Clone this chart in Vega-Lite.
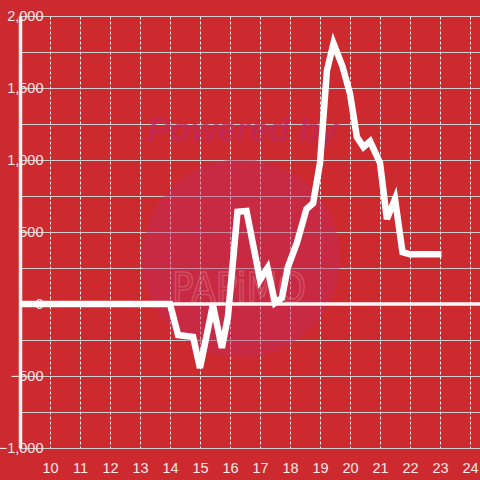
{
  "$schema": "https://vega.github.io/schema/vega-lite/v6.json",
  "autosize": "none",
  "width": 460,
  "height": 432,
  "padding": {"left": 20, "top": 16, "right": 0, "bottom": 32},
  "background": "#cd2a2f",
  "config": {
    "view": {"stroke": null},
    "font": "Liberation Sans"
  },
  "datasets": {
    "series": [
      {"hour": 9.0, "value": 0},
      {"hour": 14.0, "value": 0},
      {"hour": 14.27, "value": -215},
      {"hour": 14.77, "value": -229},
      {"hour": 15.0, "value": -444},
      {"hour": 15.43, "value": -7},
      {"hour": 15.73, "value": -305},
      {"hour": 15.93, "value": -90},
      {"hour": 16.25, "value": 640},
      {"hour": 16.55, "value": 646},
      {"hour": 17.0, "value": 167},
      {"hour": 17.25, "value": 250},
      {"hour": 17.5, "value": 7},
      {"hour": 17.73, "value": 42},
      {"hour": 17.93, "value": 257},
      {"hour": 18.23, "value": 424},
      {"hour": 18.55, "value": 660},
      {"hour": 18.77, "value": 700},
      {"hour": 19.0, "value": 980},
      {"hour": 19.23, "value": 1620},
      {"hour": 19.45, "value": 1810},
      {"hour": 19.75, "value": 1650},
      {"hour": 20.0, "value": 1460},
      {"hour": 20.23, "value": 1160},
      {"hour": 20.45, "value": 1090},
      {"hour": 20.67, "value": 1130},
      {"hour": 21.0, "value": 980},
      {"hour": 21.23, "value": 590},
      {"hour": 21.5, "value": 730},
      {"hour": 21.75, "value": 360},
      {"hour": 22.0, "value": 345},
      {"hour": 23.05, "value": 345}
    ],
    "zero": [{"hour": 9.0, "value": 0}, {"hour": 24.3333, "value": 0}],
    "badge": [{"hour": 16.37, "value": 319}],
    "caption": [{"hour": 16.43, "value": 1201, "label": "Powered by"}],
    "brand": [{"hour": 16.3, "value": 97, "label": "PAPiMO"}]
  },
  "encoding": {
    "x": {
      "field": "hour", "type": "quantitative",
      "scale": {"domain": [9, 24.3333], "nice": false, "zero": false},
      "axis": {
        "values": [10, 11, 12, 13, 14, 15, 16, 17, 18, 19, 20, 21, 22, 23, 24],
        "tickCount": 15,
        "title": null, "domain": false, "ticks": false,
        "labelOverlap": false, "labelFlush": false,
        "labelPadding": 13, "labelFontSize": 14.5, "labelColor": "#f4e8e8",
        "grid": true, "gridColor": "#eeeeee", "gridDash": [3, 2], "gridWidth": 1
      }
    },
    "y": {
      "field": "value", "type": "quantitative",
      "scale": {"domain": [-1000, 2000], "nice": false, "zero": false},
      "axis": {
        "values": [-1000, -750, -500, -250, 0, 250, 500, 750, 1000, 1250, 1500, 1750, 2000],
        "labelExpr": "datum.value % 500 === 0 ? format(datum.value, ',') : ''",
        "title": null, "ticks": false,
        "labelOverlap": false, "labelFlush": false,
        "domain": true, "domainColor": "#f2f2f2", "domainWidth": 3.5,
        "labelAlign": "right", "labelPadding": -23, "labelFontSize": 14.5, "labelColor": "#f4e8e8",
        "grid": true, "gridColor": "#cfcfcf", "gridWidth": 1.2
      }
    }
  },
  "layer": [
    {
      "data": {"name": "badge"},
      "mark": {"type": "point", "shape": "circle", "filled": true, "size": 39200, "color": "#c02a60", "opacity": 0.42}
    },
    {
      "data": {"name": "caption"},
      "mark": {"type": "text", "fontSize": 34, "fontWeight": "bold", "fontStyle": "italic", "color": "#c2285c", "opacity": 0.7, "font": "Liberation Sans"},
      "encoding": {"text": {"field": "label"}}
    },
    {
      "data": {"name": "brand"},
      "mark": {"type": "text", "fontSize": 40, "fontWeight": 300, "fill": null, "stroke": "#dc6a80", "strokeWidth": 1.5, "opacity": 0.55, "font": "DejaVu Sans Condensed"},
      "encoding": {"text": {"field": "label"}}
    },
    {
      "data": {"name": "zero"},
      "mark": {"type": "line", "color": "#f7f7f7", "strokeWidth": 3.5}
    },
    {
      "data": {"name": "series"},
      "mark": {"type": "line", "color": "#ffffff", "strokeWidth": 6.5, "clip": true}
    }
  ]
}
